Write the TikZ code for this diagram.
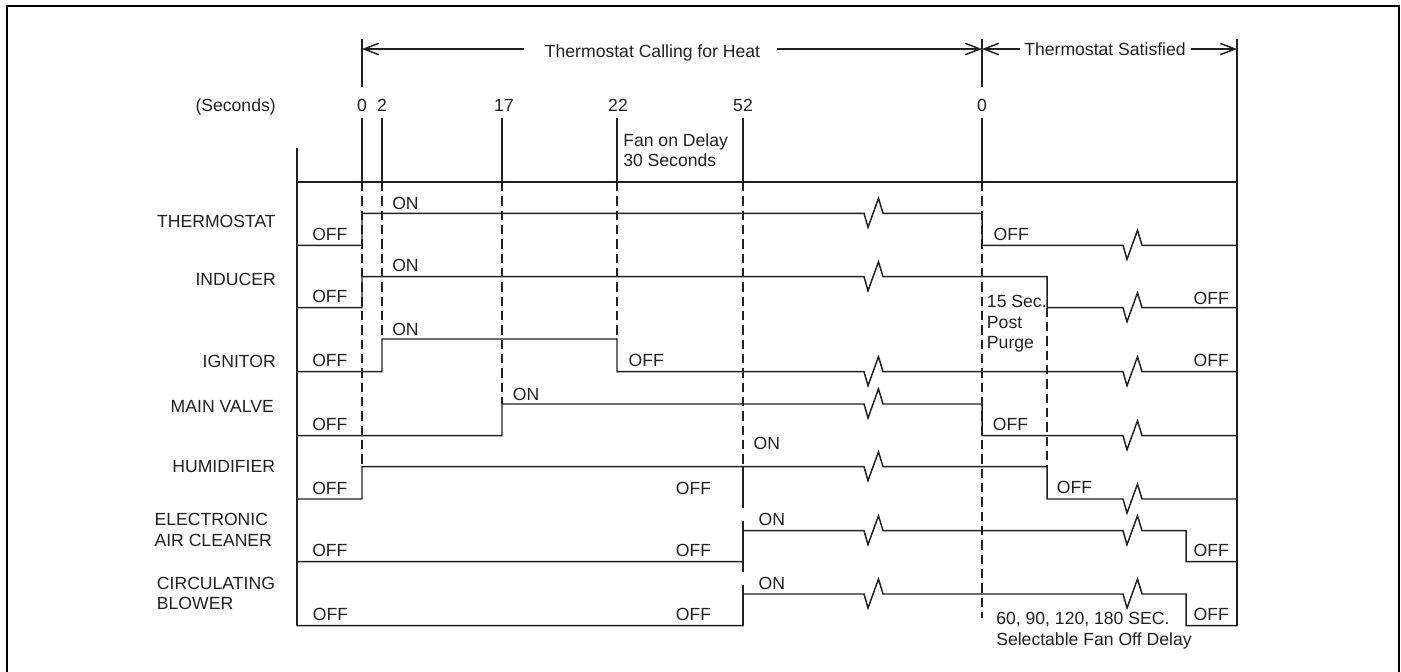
\documentclass[tikz,border=0pt]{standalone}
\usepackage{fontspec}
\setmainfont{Liberation Sans}
\usetikzlibrary{arrows.meta}
\definecolor{ink}{HTML}{231F20}
\begin{document}
\begin{tikzpicture}[x=0.75pt,y=-0.75pt,
  ln/.style={draw=ink,line width=1.1pt,line join=miter},
  dsh/.style={draw=ink,line width=1.0pt,dash pattern=on 7pt off 3.75pt},
  lbl/.style={font=\fontsize{13.2pt}{15.4pt}\selectfont,inner sep=0pt,text=ink},
  lw/.style={lbl,anchor=base west},
  le/.style={lbl,anchor=base east},
  lc/.style={lbl,anchor=base},
  arr/.style={ln,-{Straight Barb[length=11pt,width=8.5pt]}},
]
\useasboundingbox (0,0) rectangle (1401,671);
% frame
\draw[line width=1.6pt,black] (7,675) -- (7,6) -- (1399,6) -- (1399,675);

% header arrows
\node[lc] (hcall) at (652.5,57.3) {Thermostat Calling for Heat};
\node[lc] (hsat) at (1105,55.5) {Thermostat Satisfied};
\coordinate (a0) at (362,49);
\coordinate (as) at (982,49);
\coordinate (ar) at (1237,49);
\draw[arr] ([xshift=-15.75pt]hcall.west |- a0) -- (a0);
\draw[arr] ([xshift=12.75pt]hcall.east |- a0) -- (as);
\draw[arr] ([xshift=-3pt]hsat.west |- as) -- (as);
\draw[arr] ([xshift=3.75pt]hsat.east |- ar) -- (ar);

% time scale
\node[le] (secs) at (276,111) {(Seconds)};
\node[lc] (n0) at (362,111) {0};
\node[lc] (n2) at (382,111) {2};
\node[lc] (n17) at (504,111) {17};
\node[lc] (n22) at (618,111) {22};
\node[lc] (n52) at (743,111) {52};
\node[lc] (ns0) at (982,111) {0};
\draw[ln] (362,39) -- (362,87) (362,118) -- (362,182);
\draw[ln] (382,118) -- (382,182);
\draw[ln] (502,118) -- (502,182);
\draw[ln] (617,118) -- (617,182);
\draw[ln] (743,118) -- (743,182);
\draw[ln] (982,39) -- (982,87) (982,118) -- (982,182);
\node[lw,align=left] (fan) at (623,166.7) {Fan on Delay\\30 Seconds};

% frame of chart
\draw[ln] (297,148) -- (297,625.7);
\draw[ln] (297,182) -- (1237,182);
\draw[ln] (1237,39) -- (1237,625.7);

% dashed time marks
\draw[dsh] (362,182) -- (362,466.7);
\draw[dsh] (382,182) -- (382,339);
\draw[dsh] (502,182) -- (502,404);
\draw[dsh] (617,182) -- (617,339);
\draw[dsh] (743,182) -- (743,466.7);
\draw[ln] (743,466.7) -- (743,508) (743,521) -- (743,572) (743,585) -- (743,625.7);
\draw[dsh] (982,182) -- (982,618);
\draw[dsh] (1047,307.7) -- (1047,466.7);

% row labels
\node[le] (lth) at (276,227.5) {THERMOSTAT};
\node[le] (lin) at (276,285.3) {INDUCER};
\node[le] (lig) at (276,367) {IGNITOR};
\node[le] (lmv) at (274,412) {MAIN VALVE};
\node[le] (lhu) at (275.3,472.7) {HUMIDIFIER};
\node[lw,align=left] (lea) at (154.3,546.3) {ELECTRONIC\\AIR CLEANER};
\node[lw,align=left] (lbl) at (156.7,609.6) {CIRCULATING\\BLOWER};

% THERMOSTAT
\draw[ln] (297,245.3) -- (362,245.3) -- (362,213.3) -- (864,213.3) -- ++(4,14) -- ++(10.5,-29) -- ++(4.5,15)
  -- (982,213.3) -- (982,245.3) -- (1123,245.3) -- ++(4,14) -- ++(10.5,-29) -- ++(4.5,15) -- (1237,245.3);
\node[lw] at (312,240) {OFF};
\node[lw] at (392,209) {ON};
\node[lw] at (993.3,240.7) {OFF};

% INDUCER
\draw[ln] (297,307.7) -- (362,307.7) -- (362,276.7) -- (864,276.7) -- ++(4,14) -- ++(10.5,-29) -- ++(4.5,15)
  -- (1047,276.7) -- (1047,307.7) -- (1123,307.7) -- ++(4,14) -- ++(10.5,-29) -- ++(4.5,15) -- (1237,307.7);
\node[lw] at (312,302.3) {OFF};
\node[lw] at (392,271.7) {ON};
\node[lw] at (1193.3,304) {OFF};
\node[lw,align=left] (purge) at (986.7,348.8) {15 Sec.\\Post\\Purge};

% IGNITOR
\draw[ln] (297,371.7) -- (382,371.7) -- (382,339) -- (617,339) -- (617,371.7) -- (864,371.7) -- ++(4,14) -- ++(10.5,-29) -- ++(4.5,15)
  -- (1123,371.7) -- ++(4,14) -- ++(10.5,-29) -- ++(4.5,15) -- (1237,371.7);
\node[lw] at (312,366.7) {OFF};
\node[lw] at (392,335) {ON};
\node[lw] at (628.3,366.7) {OFF};
\node[lw] at (1193.3,366.7) {OFF};

% MAIN VALVE
\draw[ln] (297,435.7) -- (502,435.7) -- (502,404) -- (864,404) -- ++(4,14) -- ++(10.5,-29) -- ++(4.5,15)
  -- (982,404) -- (982,435.7) -- (1123,435.7) -- ++(4,14) -- ++(10.5,-29) -- ++(4.5,15) -- (1237,435.7);
\node[lw] at (312,430) {OFF};
\node[lw] at (512.7,400.7) {ON};
\node[lw] at (992.7,430.7) {OFF};

% HUMIDIFIER
\draw[ln] (297,499) -- (362,499) -- (362,466.7) -- (864,466.7) -- ++(4,14) -- ++(10.5,-29) -- ++(4.5,15)
  -- (1047,466.7) -- (1047,499) -- (1123,499) -- ++(4,14) -- ++(10.5,-29) -- ++(4.5,15) -- (1237,499);
\node[lw] at (312,494) {OFF};
\node[lw] at (675.7,494) {OFF};
\node[lw] at (753.3,449) {ON};
\node[lw] at (1056.7,493.3) {OFF};

% ELECTRONIC AIR CLEANER
\draw[ln] (297,561.7) -- (743,561.7) -- (743,530.7) -- (864,530.7) -- ++(4,14) -- ++(10.5,-29) -- ++(4.5,15)
  -- (1123,530.7) -- ++(4,14) -- ++(10.5,-29) -- ++(4.5,15) -- (1186,530.7) -- (1186,561.7) -- (1237,561.7);
\node[lw] at (312,556.7) {OFF};
\node[lw] at (675.7,556.7) {OFF};
\node[lw] at (758.3,525) {ON};
\node[lw] at (1193.3,556.7) {OFF};

% CIRCULATING BLOWER
\draw[ln] (297,625.7) -- (743,625.7) -- (743,594) -- (864,594) -- ++(4,14) -- ++(10.5,-29) -- ++(4.5,15)
  -- (1123,594) -- ++(4,14) -- ++(10.5,-29) -- ++(4.5,15) -- (1186,594) -- (1186,625.7) -- (1237,625.7);
\node[lw] at (312.7,620.7) {OFF};
\node[lw] at (675.7,620.7) {OFF};
\node[lw] at (758.3,589) {ON};
\node[lw] at (1193.3,620.7) {OFF};
\node[lw,align=left] (fanoff) at (996,645) {60, 90, 120, 180 SEC.\\Selectable Fan Off Delay};
\end{tikzpicture}
\end{document}
